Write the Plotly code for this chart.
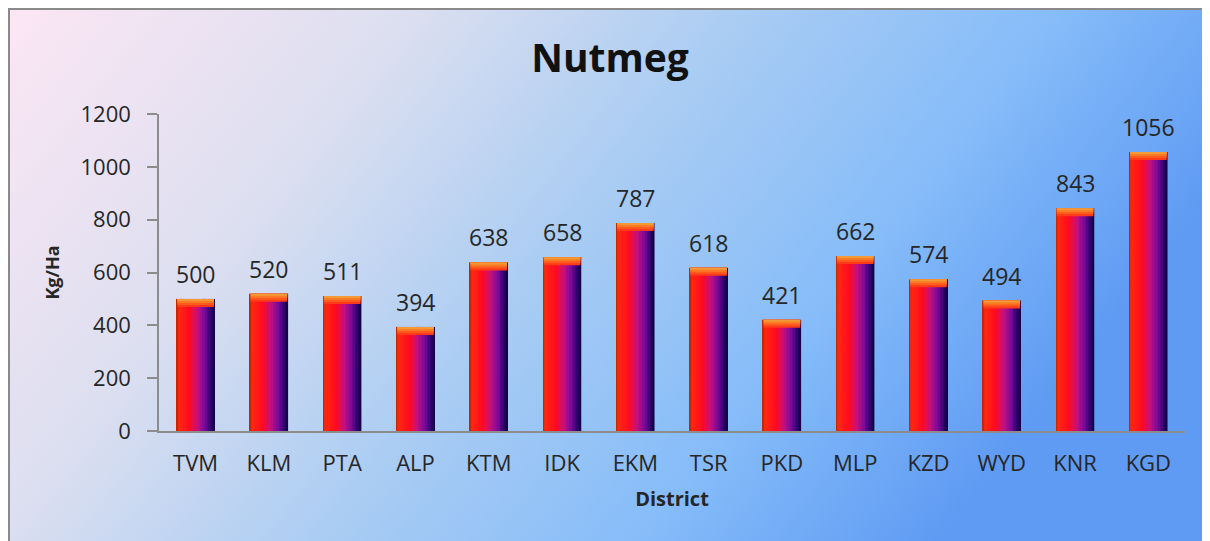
import plotly.graph_objects as go
import urllib.parse

districts = ["TVM", "KLM", "PTA", "ALP", "KTM", "IDK", "EKM", "TSR", "PKD", "MLP", "KZD", "WYD", "KNR", "KGD"]
yield_kg_ha = [500, 520, 511, 394, 638, 658, 787, 618, 421, 662, 574, 494, 843, 1056]

y_ticks = [0, 200, 400, 600, 800, 1000, 1200]

FONT = "Open Sans"
OFF = 8  # page body margin
W, H = 1210 - OFF, 541 - OFF
L, R, T, B = 159 - OFF, 1185 - OFF, 114 - OFF, 431 - OFF  # plot area in figure pixels

stops = [(0.0, (176, 40, 0)), (0.07, (255, 40, 16)), (0.35, (255, 10, 32)),
         (0.55, (200, 16, 122)), (0.75, (122, 10, 154)), (0.92, (42, 0, 106)), (1.0, (16, 0, 64))]


def col(t):
    for (a, ca), (b, cb) in zip(stops[:-1], stops[1:]):
        if a <= t <= b:
            f = (t - a) / (b - a)
            c = [round(ca[k] + (cb[k] - ca[k]) * f) for k in range(3)]
            return "rgb(%d,%d,%d)" % tuple(c)
    return "rgb(16,0,64)"


fig = go.Figure()
bar_w = 0.52
n_slices = 26
sw = bar_w / n_slices
for i in range(n_slices):
    t = (i + 0.5) / n_slices
    fig.add_trace(go.Bar(
        x=districts, y=yield_kg_ha, width=sw * 1.08, offset=-bar_w / 2 + i * sw,
        marker=dict(color=col(t), line=dict(width=0)), hoverinfo="skip", showlegend=False))

# orange top cap: thin bands blending into the bar
ppu = (B - T) / 1200.0
cap_bands = [(8, "#ff3a18"), (6, "#ff5a1c"), (4, "#fb7a26"), (2, "#f29a36")]
for hpx, c in cap_bands:
    hv = hpx / ppu
    fig.add_trace(go.Bar(x=districts, y=[hv] * len(districts),
                         base=[v - hv for v in yield_kg_ha], width=bar_w * 0.96, offset=-bar_w * 0.48,
                         marker=dict(color=c, line=dict(width=0)), hoverinfo="skip", showlegend=False))

for d, v in zip(districts, yield_kg_ha):
    fig.add_annotation(x=d, y=v, text=str(v), showarrow=False, yanchor="bottom", yshift=7,
                       font=dict(family=FONT, size=23, color="#262626"))

pw, ph = R - L, B - T
def px_x(p):
    return (p - L) / pw
def px_y(p):
    return (B - p) / ph

svg = ("<svg xmlns='http://www.w3.org/2000/svg' width='1200' height='540' viewBox='0 0 1200 540' "
       "preserveAspectRatio='none'>"
       "<defs><linearGradient id='g' x1='0' y1='0' x2='1' y2='0.35'>"
       "<stop offset='0' stop-color='#fce6f4'/><stop offset='0.3' stop-color='#dcdff0'/>"
       "<stop offset='0.55' stop-color='#a9ccf3'/><stop offset='0.78' stop-color='#86bcf9'/>"
       "<stop offset='1' stop-color='#5f9bf3'/></linearGradient></defs>"
       "<rect width='1200' height='540' fill='url(#g)'/></svg>")
src = "data:image/svg+xml;charset=utf-8," + urllib.parse.quote(svg)

fig.add_layout_image(dict(source=src, xref="paper", yref="paper", x=px_x(0), y=px_y(0),
                          sizex=px_x(W) - px_x(0), sizey=px_y(0) - px_y(H),
                          xanchor="left", yanchor="top", sizing="stretch", layer="below"))
fig.add_shape(type="rect", xref="paper", yref="paper", x0=px_x(0.5), x1=px_x(W + 10), y0=px_y(H + 10), y1=px_y(0.5),
              line=dict(color="#8a8a8a", width=3), fillcolor="rgba(0,0,0,0)", layer="above")

fig.update_layout(
    width=W, height=H,
    margin=dict(l=L, r=W - R, t=T, b=H - B, pad=0),
    barmode="overlay",
    paper_bgcolor="white",
    plot_bgcolor="#c4d69c",
    title=dict(text="<b>Nutmeg</b>", x=(610 - OFF) / W, y=1 - (58 - OFF) / H, xanchor="center", yanchor="middle",
               font=dict(family=FONT, size=39, color="#111111")),
    font=dict(family=FONT, color="#262626"),
    showlegend=False,
    hovermode=False,
)
fig.update_xaxes(
    type="category", showline=True, linecolor="#8c8c8c", linewidth=1.5, ticks="",
    tickfont=dict(family=FONT, size=22, color="#262626"), ticklabelstandoff=12,
    title=dict(text="<b>District</b>", font=dict(family=FONT, size=20, color="#262626"), standoff=16),
    showgrid=False, range=[-0.5, len(districts) - 0.5],
)
fig.update_yaxes(
    range=[0, 1200], tickvals=y_ticks, showline=True, linecolor="#8c8c8c", linewidth=1.5,
    ticks="outside", ticklen=10, tickcolor="#8c8c8c", tickwidth=1.5, showgrid=False, zeroline=False,
    tickfont=dict(family=FONT, size=22, color="#262626"), ticklabelstandoff=12,
    title=dict(text="<b>Kg/Ha</b>", font=dict(family=FONT, size=18, color="#262626"), standoff=16),
)

fig.write_html("out.html",
               post_script="document.documentElement.style.overflow='hidden';document.body.style.overflow='hidden';")
